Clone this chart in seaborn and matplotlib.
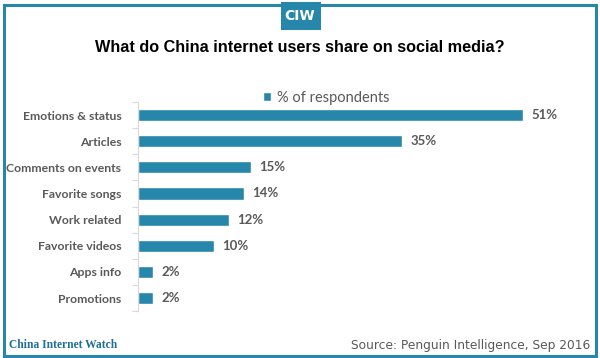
import matplotlib
matplotlib.use("Agg")
import matplotlib.pyplot as plt
from matplotlib.patches import Rectangle
import seaborn as sns
import pandas as pd

# Data
categories = ["Emotions & status", "Articles", "Comments on events", "Favorite songs",
              "Work related", "Favorite videos", "Apps info", "Promotions"]
shares = [51, 35, 15, 14, 12, 10, 2, 2]
value_labels = ["51%", "35%", "15%", "14%", "12%", "10%", "2%", "2%"]

df = pd.DataFrame({"Category": categories, "Share": shares})

blue = "#2787aa"
gray = "#595959"

sns.set_theme(style="white")
plt.rcParams["font.family"] = ["Lato", "DejaVu Sans"]

fig = plt.figure(figsize=(6, 3.58), dpi=100)
ax = fig.add_axes([0.23, 0.131, 0.705, 0.584])

sns.barplot(data=df, x="Share", y="Category", orient="h", color=blue,
            width=0.46, saturation=1, ax=ax, label="% of respondents")

for i, (v, lab) in enumerate(zip(shares, value_labels)):
    ax.text(v + 1.1, i, lab, va="center", ha="left", fontsize=9.5,
            color=gray, fontweight="bold")

ax.set_xlim(0, 56)
ax.set_ylim(len(categories) - 0.5, -0.5)
ax.set_xlabel("")
ax.set_ylabel("")
ax.set_xticks([])
ax.tick_params(axis="y", length=0, pad=12, labelsize=8.8, labelcolor=gray)
for t in ax.get_yticklabels():
    t.set_fontweight("bold")
ax.set_yticks([i + 0.5 for i in range(-1, len(categories))], minor=True)
ax.tick_params(axis="y", which="minor", left=True, length=4, color="#d9d9d9", width=0.8)
for s in ["top", "right", "bottom"]:
    ax.spines[s].set_visible(False)
ax.spines["left"].set_color("#d9d9d9")
ax.spines["left"].set_linewidth(0.8)

leg = ax.legend(loc="center", bbox_to_anchor=(0.445, 1.02), frameon=False,
                fontsize=10.5, handlelength=0.6, handleheight=0.6, handletextpad=0.4,
                borderaxespad=0)
for t in leg.get_texts():
    t.set_color(gray)

# frame around the graphic
fig.patches.append(Rectangle((4 / 600, 1 - 356 / 358), 592 / 600, 351 / 358,
                             transform=fig.transFigure, fill=False,
                             edgecolor=blue, linewidth=2.2, zorder=1))
# CIW badge
fig.patches.append(Rectangle((281 / 600, 1 - 30 / 358), 40 / 600, 28 / 358,
                             transform=fig.transFigure, facecolor=blue,
                             edgecolor="none", zorder=2))
fig.text(0.5, 1 - 16 / 358, "CIW", ha="center", va="center", color="white",
         fontsize=10, fontweight="bold", family="DejaVu Sans", zorder=3)

fig.text(0.5, 1 - 48 / 358, "What do China internet users share on social media?",
         ha="center", va="center", fontsize=11.7, fontweight="bold", color="black",
         family="Liberation Sans")

fig.text(9 / 600, 1 - 345 / 358, "China Internet Watch", ha="left", va="center",
         fontsize=8.3, fontweight="bold", color="#1f6f95", family="Liberation Serif")
fig.text(590 / 600, 1 - 345 / 358, "Source: Penguin Intelligence, Sep 2016",
         ha="right", va="center", fontsize=8.8, color=gray, family="DejaVu Sans")

fig.savefig("out.png", dpi=100)
